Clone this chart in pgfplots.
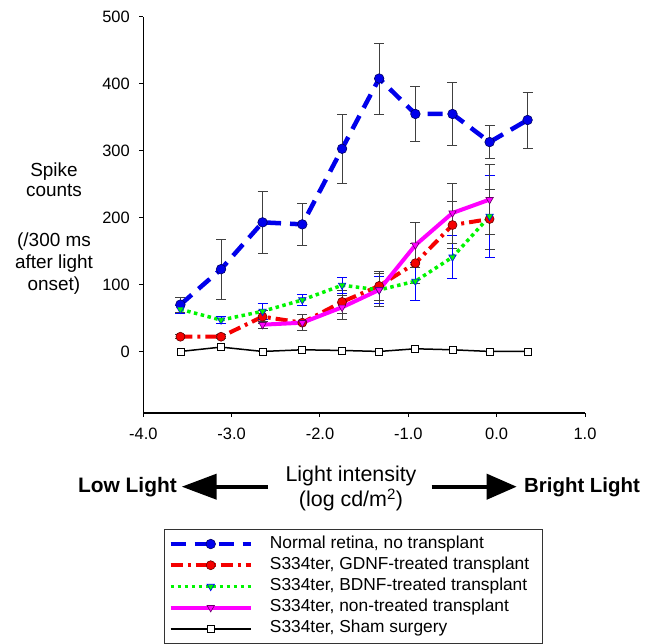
\documentclass[border=0pt]{standalone}
\usepackage{pgfplots}
\pgfplotsset{compat=1.18}
\usepackage{fontspec}
\setmainfont{Liberation Sans}
\usetikzlibrary{arrows.meta}

\definecolor{normblue}{RGB}{0,0,235}
\definecolor{gdnfred}{RGB}{245,0,0}
\definecolor{bdnfgreen}{RGB}{0,245,0}
\definecolor{ntmag}{RGB}{255,0,255}

\pgfplotsset{
  ebar/.style={
    error bars/y dir=both,
    error bars/y explicit,
    error bars/error bar style={solid, line width=0.7bp, #1},
    error bars/error mark options={solid, rotate=90, mark size=5bp, line width=0.7bp, #1}
  }
}

\begin{document}
\begin{tikzpicture}[x=1bp,y=1bp]
\useasboundingbox (0,0) rectangle (648,644);
\begin{axis}[
    at={(143.3bp,231bp)}, anchor=south west,
    scale only axis, width=441.7bp, height=396bp,
    xmin=-4, xmax=1, ymin=-92, ymax=500,
    axis x line*=bottom, axis y line*=left,
    axis line style={line width=1.1bp},
    xtick={-4,-3,-2,-1,0,1},
    ytick={0,100,200,300,400,500},
    tick align=outside, major tick length=4bp,
    tick style={line width=1bp, black},
    /pgf/number format/assume math mode=true,
    xticklabel={\pgfmathprintnumber[fixed,fixed zerofill,precision=1]{\tick}},
    ticklabel style={font=\fontsize{16.5}{19}\selectfont},
    xticklabel style={yshift=-8bp},
    yticklabel style={xshift=-6bp},
    legend image code/.code={%
      \draw[mark repeat=2,mark phase=2,#1] plot coordinates {(0bp,0bp) (40bp,0bp) (80bp,0bp)};
      \path (88bp,0bp);},
    legend cell align=left,
    legend style={at={(0.047,-0.293)}, anchor=north west,
      draw=black!80, line width=0.8bp, inner sep=4bp,
      row sep=0bp, column sep=0bp,
      font=\fontsize{17.4}{20}\selectfont,
      nodes={inner xsep=9bp, inner ysep=2bp, text height=12.6bp, text depth=4.6bp}},
]
% Normal retina
\addplot[normblue, line width=4.5bp, dash pattern=on 15bp off 9bp,
  mark=*, mark size=4.8bp,
  mark options={solid, fill=normblue, draw=black!60!blue, line width=0.6bp},
  ebar={black!75}]
coordinates {
 (-3.58,70) +- (0,11)
 (-3.12,123) +- (0,45)
 (-2.65,193) +- (0,47)
 (-2.20,190) +- (0,32)
 (-1.75,303) +- (0,51)
 (-1.33,408) +- (0,53)
 (-0.92,355) +- (0,41)
 (-0.50,355) +- (0,47)
 (-0.08,313) +- (0,25)
 (0.35,346) +- (0,42)
};
\addlegendentry{Normal retina, no transplant}
% GDNF
\addplot[gdnfred, line width=4bp, dash pattern=on 12bp off 5bp on 3bp off 5bp,
  mark=*, mark size=4.5bp,
  mark options={solid, fill=gdnfred, draw=black!60!red, line width=0.6bp},
  ebar={black!75}]
coordinates {
 (-3.58,22) +- (0,3)
 (-3.12,22) +- (0,3)
 (-2.65,52) +- (0,10)
 (-2.20,43) +- (0,12)
 (-1.75,74) +- (0,17)
 (-1.33,98) +- (0,22)
 (-0.92,132) +- (0,30)
 (-0.50,189) +- (0,35)
 (-0.08,198) +- (0,45)
};
\addlegendentry{S334ter, GDNF-treated transplant}
% BDNF
\addplot[bdnfgreen, line width=3.5bp, dash pattern=on 3.5bp off 3.5bp,
  mark=triangle*, mark size=4.3bp,
  mark options={solid, rotate=180, fill=bdnfgreen, draw=blue, line width=0.6bp},
  ebar={blue}]
coordinates {
 (-3.58,63) +- (0,6)
 (-3.12,47) +- (0,5)
 (-2.65,60) +- (0,12)
 (-2.20,77) +- (0,8)
 (-1.75,99) +- (0,12)
 (-1.33,92) +- (0,20)
 (-0.92,105) +- (0,28)
 (-0.50,141) +- (0,32)
 (-0.08,202) +- (0,62)
};
\addlegendentry{S334ter, BDNF-treated transplant}
% non-treated
\addplot[ntmag, line width=4bp,
  mark=triangle*, mark size=4.3bp,
  mark options={solid, rotate=180, fill=ntmag, draw=black!60!ntmag, line width=0.6bp},
  ebar={black!75}]
coordinates {
 (-2.65,40) +- (0,5)
 (-2.20,43) +- (0,12)
 (-1.75,66) +- (0,18)
 (-1.33,92) +- (0,25)
 (-0.92,159) +- (0,34)
 (-0.50,207) +- (0,45)
 (-0.08,227) +- (0,52)
};
\addlegendentry{S334ter, non-treated transplant}
% Sham
\addplot[black, line width=1.5bp,
  mark=square*, mark size=3.5bp,
  mark options={solid, fill=white, draw=black, line width=0.8bp}]
coordinates {
 (-3.58,0) (-3.12,6.5) (-2.65,0) (-2.20,2.5) (-1.75,1.5)
 (-1.33,0) (-0.92,4) (-0.50,2.5) (-0.08,0) (0.35,0)
};
\addlegendentry{S334ter, Sham surgery}
\end{axis}
% y axis label
\begin{scope}[every node/.style={anchor=base, font=\fontsize{19}{22}\selectfont, inner sep=0}]
\node at (54,467) {Spike};
\node at (54,447) {counts};
\node at (54,397) {(/300 ms};
\node at (54,375) {after light};
\node at (54,353) {onset)};
\node[font=\fontsize{21.5}{24}\selectfont] at (351,162) {Light intensity};
\node[font=\fontsize{21.5}{24}\selectfont] at (351,137) {(log cd/m\textsuperscript{2})};
\node[anchor=base east, font=\fontsize{21}{24}\selectfont\bfseries] at (177,151.3) {Low Light};
\node[anchor=base west, font=\fontsize{20.5}{24}\selectfont\bfseries] at (524,151.3) {Bright Light};
\end{scope}
\draw[line width=4bp, -{Triangle[length=35bp,width=25bp]}] (268,157.3) -- (181.7,157.3);
\draw[line width=4bp, -{Triangle[length=30bp,width=25bp]}] (431.7,157.3) -- (516.7,157.3);
\end{tikzpicture}
\end{document}
